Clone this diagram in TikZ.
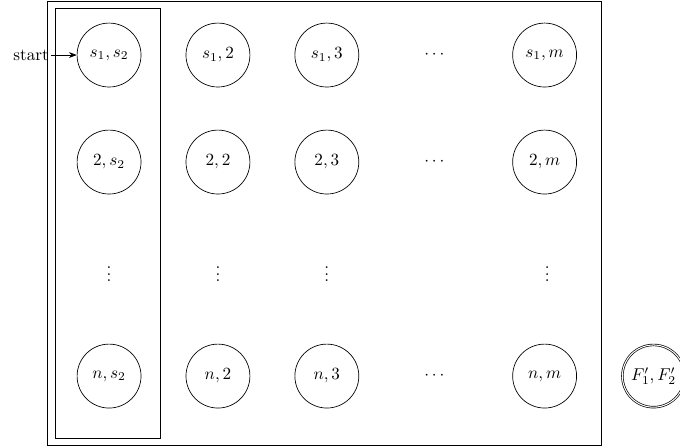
\documentclass[tikz,border=0pt]{standalone}
\usepackage{amsmath,amssymb}
\usepackage{tikz}
\usetikzlibrary{arrows.meta,positioning,calc}

\begin{document}
\begin{tikzpicture}[
  node distance=62.6pt and 63.7pt,
  on grid,
  state/.style={draw, circle, minimum size=37.4pt, inner sep=0pt},
  accstate/.style={draw, circle, double, minimum size=36.4pt, inner sep=0pt},
  arrow/.style={-{Stealth[length=1.6mm]}},
]

% bounding box
\useasboundingbox (-63.8pt,32.2pt) rectangle (334pt,-229.3pt);

% first row
\node[state] (s1s2) {$s_1, s_2$};
\node[state, right=of s1s2] (s1c2) {$s_1, 2$};
\node[state, right=of s1c2] (s1c3) {$s_1, 3$};
\node[right=of s1c3] (s1dots) {$\cdots$};
\node[state, right=of s1dots] (s1m) {$s_1, m$};

% second row
\node[state, below=of s1s2] (r2s2) {$2, s_2$};
\node[state, right=of r2s2] (r2c2) {$2, 2$};
\node[state, right=of r2c2] (r2c3) {$2, 3$};
\node[right=of r2c3] (r2dots) {$\cdots$};
\node[state, right=of r2dots] (r2m) {$2, m$};

% vertical dots
\node[below=of r2s2, inner sep=0pt] (v1) {$\vdots$};
\node[right=of v1, inner sep=0pt] (v2) {$\vdots$};
\node[right=of v2, inner sep=0pt] (v3) {$\vdots$};
\coordinate[right=of v3] (v4);
\node[right=of v4, inner sep=0pt] (v5) {$\vdots$};

% last row
\node[state, below=of v1] (ns2) {$n, s_2$};
\node[state, right=of ns2] (nc2) {$n, 2$};
\node[state, right=of nc2] (nc3) {$n, 3$};
\node[right=of nc3] (ndots) {$\cdots$};
\node[state, right=of ndots] (nm) {$n, m$};
\node[accstate, right=of nm] (final) {$F_1', F_2'$};

% start arrow
\node[left=15.2pt of s1s2.west, anchor=east, inner sep=1pt] (start) {start};
\draw[arrow] (start) -- (s1s2);

% boxes
\draw (-36.3pt,31.6pt) rectangle (287.8pt,-228.2pt);
\draw (-31.6pt,27.5pt) rectangle (29.8pt,-224pt);

\end{tikzpicture}
\end{document}
